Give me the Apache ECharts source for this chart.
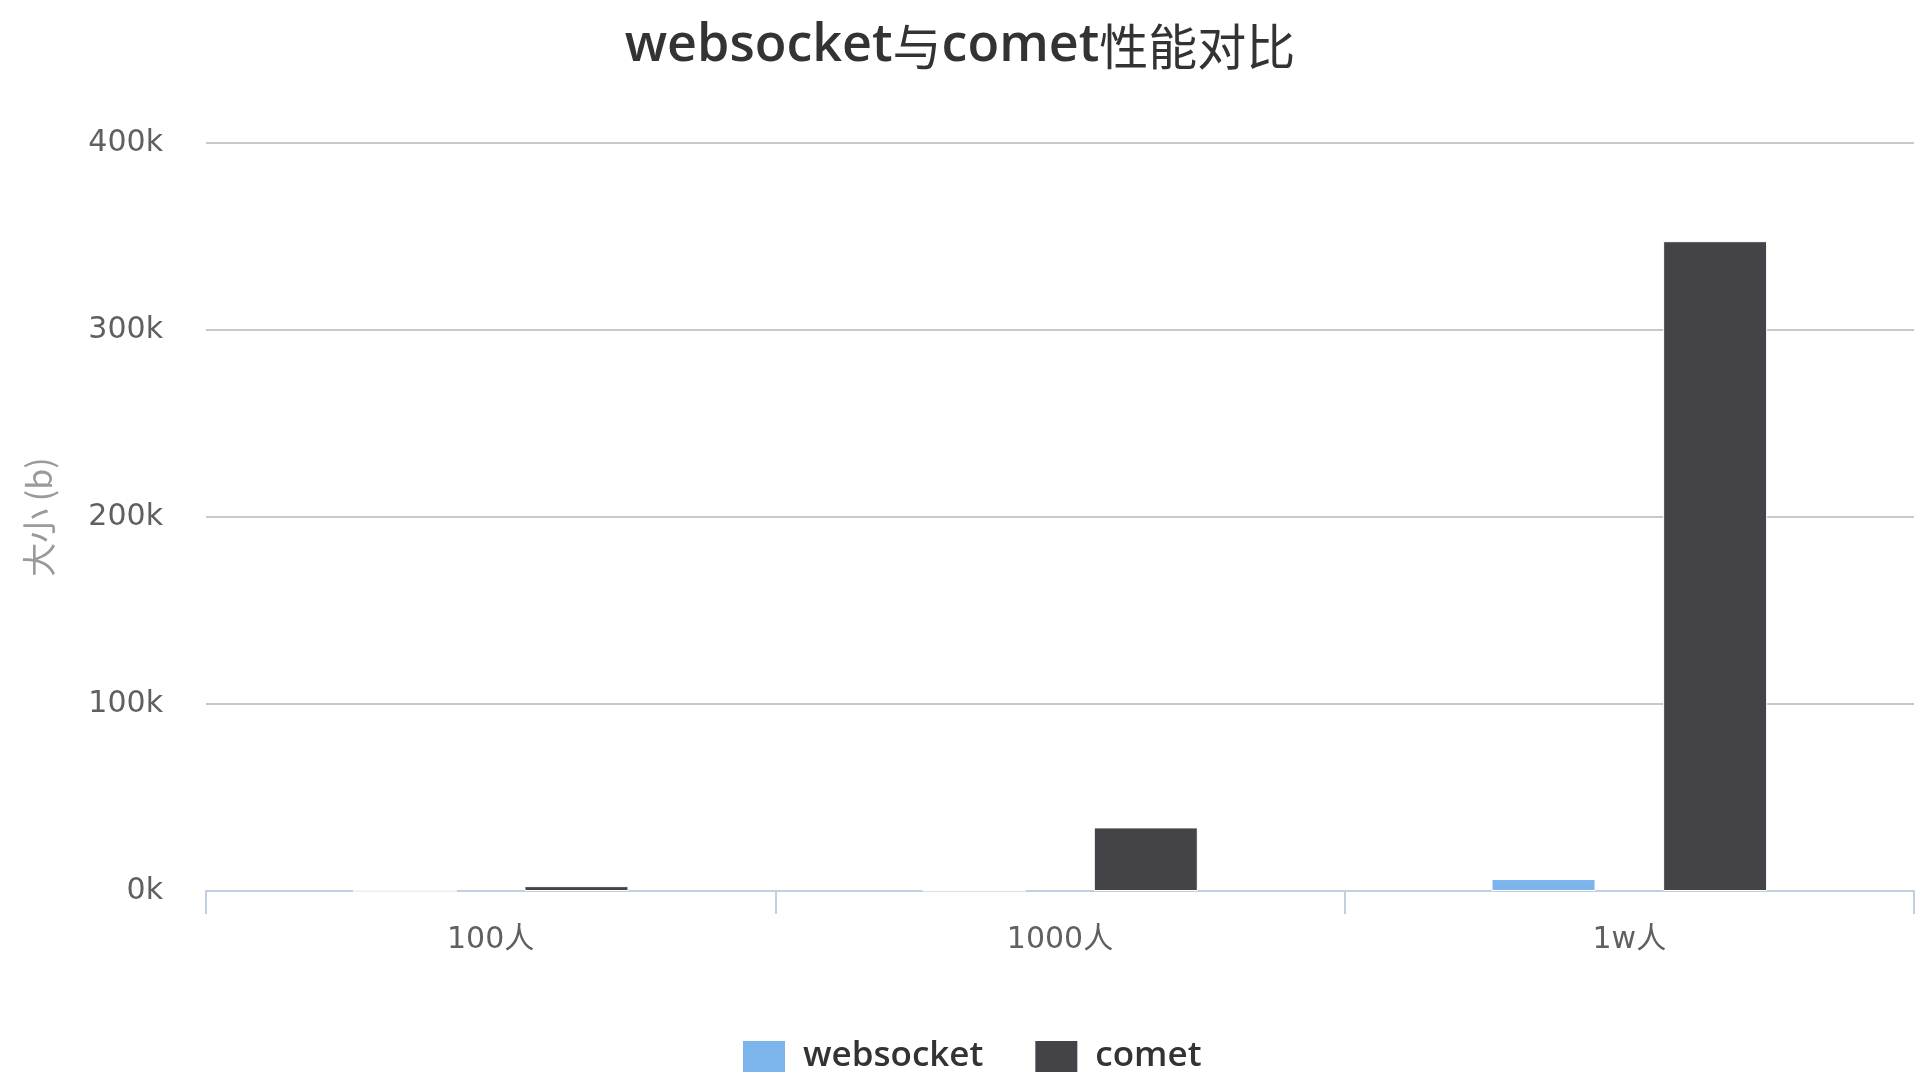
<!DOCTYPE html>
<html>
<head>
<meta charset="utf-8">
<script src="https://cdn.jsdelivr.net/npm/echarts@6/dist/echarts.min.js"></script>
<style>html,body{margin:0;padding:0;background:#fff;}#c{width:1920px;height:1080px;}</style>
</head>
<body>
<div id="c"></div>
<script>
var categories = ['100人', '1000人', '1w人'];
var websocketValues = [60, 300, 6400];
var cometValues = [2600, 34000, 347500];
var yTicks = [0, 100000, 200000, 300000, 400000];
var seriesNames = ['websocket', 'comet'];

var chart = echarts.init(document.getElementById('c'), null, {renderer: 'canvas'});
var latin = '"Open Sans", "Noto Sans", sans-serif';
var cjk = '"Noto Sans CJK SC", sans-serif';
chart.setOption({
  animation: false,
  backgroundColor: '#ffffff',
  title: {
    text: '{a|websocket}{b|与}{a|comet}{b|性能对比}',
    left: 'center',
    top: 15,
    textStyle: {
      rich: {
        a: {fontFamily: latin, fontWeight: 600, fontSize: 52, color: '#333333'},
        b: {fontFamily: cjk, fontWeight: 'normal', fontSize: 49, color: '#333333'}
      }
    }
  },
  legend: {
    data: seriesNames,
    left: 741,
    top: 1039,
    padding: 0,
    itemWidth: 44,
    itemHeight: 33,
    itemGap: 50,
    icon: 'rect',
    textStyle: {fontFamily: latin, fontWeight: 600, fontSize: 35, color: '#333333', padding: [0, 0, 0, 12]}
  },
  grid: {left: 206, right: 6, top: 143, bottom: 189, containLabel: false},
  xAxis: {
    type: 'category',
    data: categories,
    axisLine: {lineStyle: {color: '#C0D0E0', width: 2}},
    axisTick: {show: true, length: 23, lineStyle: {color: '#C0D0E0', width: 2}},
    axisLabel: {fontFamily: '"DejaVu Sans", "Noto Sans CJK SC", sans-serif', fontSize: 30, color: '#606060', margin: 34}
  },
  yAxis: {
    type: 'value',
    min: yTicks[0],
    max: yTicks[yTicks.length - 1],
    interval: 100000,
    name: '大小 (b)',
    nameLocation: 'middle',
    nameRotate: 90,
    nameGap: 150,
    nameTextStyle: {fontFamily: '"Noto Sans CJK SC", "DejaVu Sans", sans-serif', fontSize: 34, color: '#9a9a9a'},
    axisLine: {show: false},
    axisTick: {show: false},
    splitLine: {lineStyle: {color: '#C8C8C8', width: 2}},
    axisLabel: {
      fontFamily: '"DejaVu Sans", sans-serif', fontSize: 30, color: '#606060', margin: 43,
      padding: [10, 0, 0, 0],
      formatter: function (v) { return (v / 1000) + 'k'; }
    }
  },
  series: [
    {name: seriesNames[0], type: 'bar', data: websocketValues, barWidth: 104, barGap: '65%',
     itemStyle: {color: '#7cb5ec', borderColor: '#ffffff', borderWidth: 1}},
    {name: seriesNames[1], type: 'bar', data: cometValues, barWidth: 104, barGap: '65%',
     itemStyle: {color: '#434348', borderColor: '#ffffff', borderWidth: 1}}
  ]
});
</script>
</body>
</html>
